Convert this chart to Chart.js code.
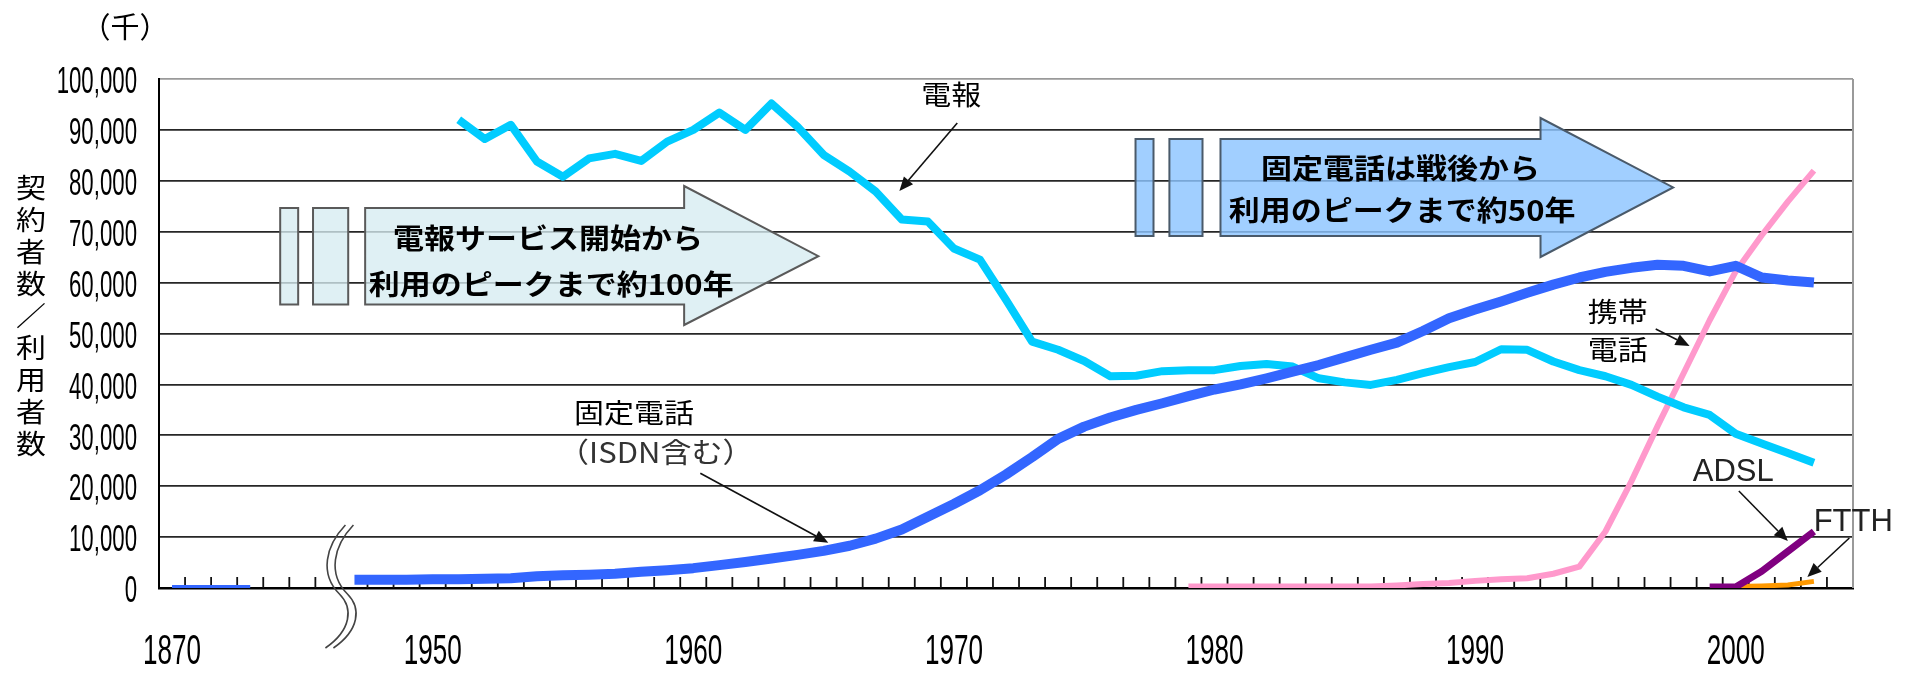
<!DOCTYPE html>
<html lang="ja">
<head>
<meta charset="utf-8">
<title>電報・固定電話・携帯電話・ADSL・FTTHの契約者数</title>
<script src="https://cdn.jsdelivr.net/npm/chart.js@4.4.1/dist/chart.umd.min.js"></script>
<style>
  html, body { margin: 0; padding: 0; background: #fff; }
  canvas { display: block; }
</style>
</head>
<body>
<canvas id="myChart" width="1911" height="675"></canvas>
<script>
// 年（1870年代と戦後の間は省略）
var years = [
  "1870", "1871", "1872", "1873", "1874", "1875", "1876",
  "1947", "1948", "1949",
  "1950", "1951", "1952", "1953", "1954", "1955", "1956", "1957", "1958", "1959",
  "1960", "1961", "1962", "1963", "1964", "1965", "1966", "1967", "1968", "1969",
  "1970", "1971", "1972", "1973", "1974", "1975", "1976", "1977", "1978", "1979",
  "1980", "1981", "1982", "1983", "1984", "1985", "1986", "1987", "1988", "1989",
  "1990", "1991", "1992", "1993", "1994", "1995", "1996", "1997", "1998", "1999",
  "2000", "2001", "2002", "2003", "2004"
];
var xTickLabels = ["1870", "1950", "1960", "1970", "1980", "1990", "2000"];

// 単位：千
var earlyLine = [
  300, 300, 300, 300, null, null, null,
  null, null, null,
  null, null, null, null, null, null, null, null, null, null,
  null, null, null, null, null, null, null, null, null, null,
  null, null, null, null, null, null, null, null, null, null,
  null, null, null, null, null, null, null, null, null, null,
  null, null, null, null, null, null, null, null, null, null,
  null, null, null, null, null
];
var telegram = [
  null, null, null, null, null, null, null,
  null, null, null,
  null, 92000, 88200, 91000, 83800, 80800, 84400, 85300, 83900, 87700,
  90000, 93400, 90000, 95200, 90600, 85100, 81800, 77900, 72400, 72000,
  66700, 64500, 56600, 48400, 46800, 44600, 41600, 41700, 42600, 42800,
  42800, 43600, 44000, 43500, 41200, 40400, 39900, 40900, 42200, 43400,
  44400, 46900, 46800, 44500, 42800, 41600, 39900, 37600, 35500, 34000,
  30300, 28400, 26500, 24600, null
];
var fixedPhone = [
  null, null, null, null, null, null, null,
  1600, 1600, 1600,
  1700, 1700, 1800, 1900, 2300, 2500, 2600, 2800, 3200, 3500,
  3900, 4500, 5100, 5800, 6500, 7300, 8300, 9700, 11500, 14000,
  16500, 19200, 22300, 25700, 29300, 31700, 33500, 35000, 36300, 37700,
  39000, 40000, 41200, 42500, 43800, 45300, 46800, 48200, 50500, 53000,
  54700, 56300, 58000, 59600, 61000, 62100, 62900, 63500, 63300, 62200,
  63300, 61000, 60400, 60000, null
];
var mobilePhone = [
  null, null, null, null, null, null, null,
  null, null, null,
  null, null, null, null, null, null, null, null, null, null,
  null, null, null, null, null, null, null, null, null, null,
  null, null, null, null, null, null, null, null, null, 300,
  300, 300, 300, 300, 300, 300, 300, 500, 800, 1000,
  1400, 1700, 1900, 2800, 4200, 11100, 21000, 31800, 42200, 52600,
  62200, 69300, 75900, 82000, null
];
var adsl = [
  null, null, null, null, null, null, null,
  null, null, null,
  null, null, null, null, null, null, null, null, null, null,
  null, null, null, null, null, null, null, null, null, null,
  null, null, null, null, null, null, null, null, null, null,
  null, null, null, null, null, null, null, null, null, null,
  null, null, null, null, null, null, null, null, null, 200,
  200, 3300, 7200, 11100, null
];
var ftth = [
  null, null, null, null, null, null, null,
  null, null, null,
  null, null, null, null, null, null, null, null, null, null,
  null, null, null, null, null, null, null, null, null, null,
  null, null, null, null, null, null, null, null, null, null,
  null, null, null, null, null, null, null, null, null, null,
  null, null, null, null, null, null, null, null, null, null,
  300, 400, 600, 1300, null
];

var CJK = "'Noto Sans CJK JP', 'Noto Sans CJK SC', sans-serif";
var NUM = "'Liberation Sans Narrow', 'Liberation Sans', sans-serif";

// 注記（位置は x: 年の番号, y: 値 で指定）
var bigArrows = [
  {
    fill: "rgba(214, 236, 241, 0.78)", stroke: "#5a5a5a",
    bars: [[4.15, 4.84], [5.41, 6.76]],
    left: 7.41, base: 19.65, tip: 24.8,
    top: 74650, bottom: 55700, headTop: 78980, headBottom: 51670, mid: 65200,
    lines: [["電報サービス開始から", 14.43, 68660], ["利用のピークまで約100年", 14.55, 59620]]
  },
  {
    fill: "rgba(140, 196, 255, 0.82)", stroke: "#4a5a6a",
    bars: [[36.97, 37.66], [38.27, 39.54]],
    left: 40.23, base: 52.51, tip: 57.6,
    top: 88210, bottom: 69150, headTop: 92340, headBottom: 65030, mid: 78700,
    lines: [["固定電話は戦後から", 47.14, 82510], ["利用のピークまで約50年", 47.2, 74260]]
  }
];
var notes = [
  { text: "電報", i: 29.9, v: 96850, align: "center", font: "30px " + CJK },
  { text: "固定電話", i: 17.73, v: 34380, align: "center", font: "30px " + CJK },
  { text: "（ISDN含む）", i: 18.56, v: 26720, align: "center", font: "31px " + CJK, color: "#333" },
  { text: "携帯", i: 54.32, v: 54220, align: "left", font: "30px " + CJK },
  { text: "電話", i: 54.32, v: 46760, align: "left", font: "30px " + CJK },
  { text: "ADSL", i: 58.35, v: 22790, align: "left", font: "31px 'Liberation Sans', sans-serif", color: "#222" },
  { text: "FTTH", i: 62.99, v: 12970, align: "left", font: "31px 'Liberation Sans', sans-serif", color: "#222" }
];
var pointers = [
  [30.13, 91350, 27.91, 78000],
  [20.27, 22530, 25.18, 8900],
  [56.93, 50880, 58.23, 47540],
  [60.12, 19060, 62.0, 9230],
  [64.36, 9820, 62.75, 2160]
];
var yTitle = ["契", "約", "者", "数", "／", "利", "用", "者", "数"];

function txt(c, s, x, y, font, align, color, sx, sy) {
  c.save();
  c.font = font;
  c.fillStyle = color || "#000";
  c.textAlign = align || "center";
  c.textBaseline = "middle";
  c.translate(x, y);
  c.scale(sx || 1, sy || 1);
  c.fillText(s, 0, 0);
  c.restore();
}

function pointer(c, x1, y1, x2, y2) {
  var a = Math.atan2(y2 - y1, x2 - x1), L = 14, W = 6;
  var bx = x2 - L * Math.cos(a), by = y2 - L * Math.sin(a);
  c.save();
  c.strokeStyle = "#111";
  c.fillStyle = "#111";
  c.lineWidth = 1.6;
  c.beginPath();
  c.moveTo(x1, y1);
  c.lineTo(bx, by);
  c.stroke();
  c.beginPath();
  c.moveTo(x2, y2);
  c.lineTo(bx + W * Math.sin(a), by - W * Math.cos(a));
  c.lineTo(bx - W * Math.sin(a), by + W * Math.cos(a));
  c.closePath();
  c.fill();
  c.restore();
}

var decor = {
  id: "decor",
  beforeDatasetsDraw: function (chart) {
    var c = chart.ctx, xs = chart.scales.x, ys = chart.scales.y, area = chart.chartArea;
    var X = function (i) { return xs.getPixelForValue(i); };
    var Y = function (v) { return ys.getPixelForValue(v); };

    // right frame
    c.save();
    c.strokeStyle = "#9a9a9a";
    c.lineWidth = 2;
    c.beginPath();
    c.moveTo(area.right, area.top);
    c.lineTo(area.right, area.bottom);
    c.stroke();

    // year tick marks inside the plot
    c.strokeStyle = "#111";
    c.lineWidth = 1.8;
    for (var k = 1; k < years.length; k++) {
      if (k === 7) continue;
      var bx = X(k - 0.5);
      c.beginPath();
      c.moveTo(bx, area.bottom);
      c.lineTo(bx, area.bottom - 11);
      c.stroke();
    }
    c.restore();

    // block arrows
    bigArrows.forEach(function (s) {
      c.save();
      c.fillStyle = s.fill;
      c.strokeStyle = s.stroke;
      c.lineWidth = 2;
      s.bars.forEach(function (b) {
        c.beginPath();
        c.rect(X(b[0]), Y(s.top), X(b[1]) - X(b[0]), Y(s.bottom) - Y(s.top));
        c.fill();
        c.stroke();
      });
      c.beginPath();
      c.moveTo(X(s.left), Y(s.top));
      c.lineTo(X(s.base), Y(s.top));
      c.lineTo(X(s.base), Y(s.headTop));
      c.lineTo(X(s.tip), Y(s.mid));
      c.lineTo(X(s.base), Y(s.headBottom));
      c.lineTo(X(s.base), Y(s.bottom));
      c.lineTo(X(s.left), Y(s.bottom));
      c.closePath();
      c.fill();
      c.stroke();
      s.lines.forEach(function (l) {
        txt(c, l[0], X(l[1]), Y(l[2]), "bold 31px " + CJK, "center", "#000", 1, 0.9);
      });
      c.restore();
    });

    // axis break mark
    var ox = X(6.5), oy = area.bottom;
    c.save();
    c.strokeStyle = "#444";
    c.lineWidth = 1.6;
    [0, 8].forEach(function (d) {
      c.beginPath();
      c.moveTo(ox + 4 + d, oy - 63);
      c.bezierCurveTo(ox - 16 + d, oy - 42, ox - 22 + d, oy - 14, ox - 2 + d, oy + 6);
      c.bezierCurveTo(ox + 12 + d, oy + 20, ox + 10 + d, oy + 42, ox - 16 + d, oy + 60);
      c.stroke();
    });
    c.restore();
  },
  afterDatasetsDraw: function (chart) {
    var c = chart.ctx, xs = chart.scales.x, ys = chart.scales.y, area = chart.chartArea;
    var X = function (i) { return xs.getPixelForValue(i); };
    var Y = function (v) { return ys.getPixelForValue(v); };

    notes.forEach(function (n) {
      txt(c, n.text, X(n.i), Y(n.v), n.font, n.align, n.color || "#000", 1, n.font.indexOf("CJK") > 0 ? 0.9 : 1);
    });
    pointers.forEach(function (p) {
      pointer(c, X(p[0]), Y(p[1]), X(p[2]), Y(p[3]));
    });

    // y tick labels (tall narrow digits)
    c.save();
    c.font = "37px " + NUM;
    var syx = 68 / c.measureText("10,000").width;
    c.restore();
    ys.ticks.forEach(function (t) {
      txt(c, t.label, area.left - 22, ys.getPixelForValue(t.value) + 4, "37px " + NUM, "right", "#000", syx, 1);
    });

    // x tick labels
    c.save();
    c.font = "43px " + NUM;
    var sxx = 58 / c.measureText("1870").width;
    c.restore();
    xTickLabels.forEach(function (lab) {
      var idx = years.indexOf(lab);
      txt(c, lab, xs.getPixelForTick(idx), area.bottom + 64, "43px " + NUM, "center", "#000", sxx, 1);
    });

    // unit and vertical axis title
    txt(c, "（千）", area.left - 34, area.top - 52, "29px " + CJK, "center", "#000", 1, 1);
    var ty = ys.getPixelForValue(53400);
    yTitle.forEach(function (ch, k) {
      txt(c, ch, area.left - 128, ty + (k - 4) * 32, "30px " + CJK, "center", "#000", 1, 0.9);
    });
  }
};

var ctx = document.getElementById("myChart").getContext("2d");
var chart = new Chart(ctx, {
  type: "line",
  data: {
    labels: years,
    datasets: [
      { label: "固定電話", data: fixedPhone, borderColor: "#3366ff", borderWidth: 10 },
      { label: "初期", data: earlyLine, borderColor: "#3366ff", borderWidth: 3 },
      { label: "電報", data: telegram, borderColor: "#00ccff", borderWidth: 8 },
      { label: "携帯電話", data: mobilePhone, borderColor: "#ff99cc", borderWidth: 6 },
      { label: "ADSL", data: adsl, borderColor: "#800080", borderWidth: 7 },
      { label: "FTTH", data: ftth, borderColor: "#ff9900", borderWidth: 5 }
    ]
  },
  options: {
    responsive: false,
    animation: false,
    locale: "en-US",
    layout: { padding: { left: 159, right: 58, top: 79, bottom: 87 } },
    elements: {
      point: { radius: 0 },
      line: { tension: 0, borderJoinStyle: "round", borderCapStyle: "butt", fill: false }
    },
    plugins: {
      legend: { display: false },
      tooltip: { enabled: false }
    },
    scales: {
      x: {
        offset: true,
        grid: { display: false, drawTicks: false },
        border: { color: "#000", width: 2.5 },
        ticks: { display: false, autoSkip: false }
      },
      y: {
        min: 0,
        max: 100000,
        ticks: { stepSize: 10000, display: false },
        grid: {
          drawTicks: false,
          lineWidth: 1.8,
          color: function (c) { return c.tick && c.tick.value === 100000 ? "#9a9a9a" : "#262626"; }
        },
        border: { color: "#000", width: 2 }
      }
    }
  },
  plugins: [decor]
});
</script>
</body>
</html>
